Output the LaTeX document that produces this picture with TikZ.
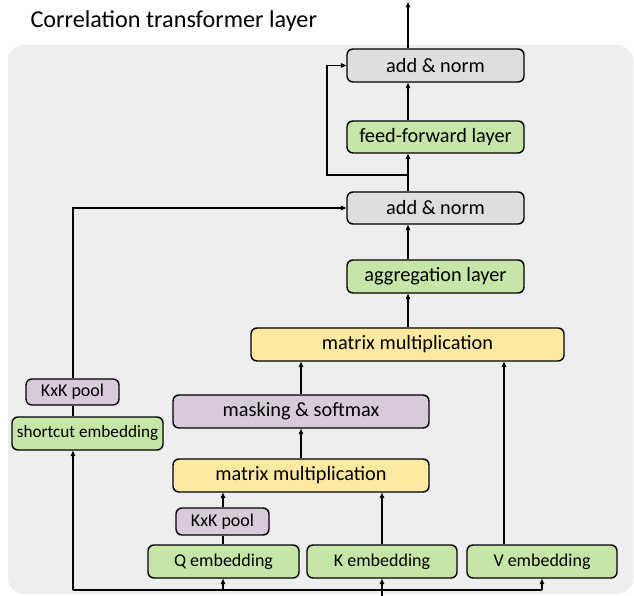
\documentclass[tikz,border=0pt]{standalone}
\usepackage{fontspec}
\setmainfont{Carlito}
\usetikzlibrary{arrows.meta,calc}
\definecolor{bgc}{HTML}{EEEEEE}
\definecolor{grayc}{HTML}{DEDEDE}
\definecolor{greenc}{HTML}{C5E6A6}
\definecolor{yellowc}{HTML}{FFE89F}
\definecolor{purplec}{HTML}{D8CADB}
\tikzset{
  box/.style={draw=black, line width=1.4pt, rounded corners=6pt, inner sep=0pt, align=center},
  bigtext/.style={font=\fontsize{20.3}{23}\selectfont},
  smalltext/.style={font=\fontsize{18}{20}\selectfont},
  graybox/.style={box, bigtext, fill=grayc},
  greenbox/.style={box, bigtext, fill=greenc},
  yellowbox/.style={box, bigtext, fill=yellowc},
  purplebox/.style={box, bigtext, fill=purplec},
  conn/.style={draw=black, line width=1.3pt},
  arr/.style={conn, -{Triangle[length=5.5pt,width=4.5pt]}},
}
\begin{document}
\begin{tikzpicture}[x=1pt,y=-1pt]
\useasboundingbox (0,0) rectangle (634,596);
% background panel
\fill[bgc, rounded corners=16pt] (8,45) rectangle (633,594);
\node[anchor=west, font=\fontsize{24.2}{27}\selectfont] (title) at (27,21) {Correlation transformer layer};

% nodes
\node[graybox, minimum width=177pt, minimum height=33pt] (an2) at (435.5,65.5) {add \& norm};
\node[greenbox, minimum width=177pt, minimum height=32pt] (ff) at (435.5,137) {feed-forward layer};
\node[graybox, minimum width=177pt, minimum height=32pt] (an1) at (435.5,208) {add \& norm};
\node[greenbox, minimum width=177pt, minimum height=33pt] (agg) at (435.5,276.5) {aggregation layer};
\node[yellowbox, minimum width=313pt, minimum height=33pt] (mm2) at (407.5,344.5) {matrix multiplication};
\node[purplebox, minimum width=256pt, minimum height=33pt] (mask) at (301,411.5) {masking \& softmax};
\node[yellowbox, minimum width=256pt, minimum height=33pt] (mm1) at (301,475.5) {matrix multiplication};
\node[box, smalltext, fill=purplec, minimum width=93pt, minimum height=27pt] (poolq) at (222.5,521.5) {KxK pool};
\node[box, smalltext, fill=greenc, minimum width=151pt, minimum height=33pt] (qemb) at (223.5,561.5) {Q embedding};
\node[box, smalltext, fill=greenc, minimum width=150pt, minimum height=33pt] (kemb) at (382,561.5) {K embedding};
\node[box, smalltext, fill=greenc, minimum width=150pt, minimum height=33pt] (vemb) at (542,561.5) {V embedding};
\node[box, smalltext, fill=purplec, minimum width=93pt, minimum height=26pt] (pools) at (72.5,392) {KxK pool};
\node[box, font=\fontsize{17.2}{19}\selectfont, fill=greenc, minimum width=151pt, minimum height=33pt] (semb) at (87.5,433.5) {shortcut embedding};

% helper coordinates
\coordinate (out) at (408,2);
\coordinate (cmain) at (408,0);
\coordinate (skipx) at (327,175);
\coordinate (cmask) at (301,0);
\coordinate (cq) at (223,0);
\coordinate (ck) at (382,0);
\coordinate (cv) at (504,0);
\coordinate (cvin) at (542,0);
\coordinate (cs) at (73,0);
\coordinate (busy) at (0,590);
\coordinate (inp) at (382,596);

% main column
\draw[arr] (an2.north -| cmain) -- (out);
\draw[arr] (ff.north -| cmain) -- (an2.south -| cmain);
\draw[arr] (an1.north -| cmain) -- (ff.south -| cmain);
\draw[arr] (agg.north -| cmain) -- (an1.south -| cmain);
\draw[arr] (mm2.north -| cmain) -- (agg.south -| cmain);
% residual around feed-forward
\draw[arr] (skipx -| cmain) -- (skipx) |- (an2.west);
% attention path
\draw[arr] (mask.north -| cmask) -- (mm2.south -| cmask);
\draw[arr] (mm1.north -| cmask) -- (mask.south -| cmask);
\draw[arr] (poolq.north -| cq) -- (mm1.south -| cq);
\draw[conn] (qemb.north -| cq) -- (poolq.south -| cq);
\draw[arr] (kemb.north -| ck) -- (mm1.south -| ck);
\draw[arr] (vemb.north -| cv) -- (mm2.south -| cv);
% shortcut
\draw[conn] (semb.north -| cs) -- (pools.south -| cs);
\draw[arr] (pools.north -| cs) |- (an1.west);
% input bus
\draw[conn, line width=2pt] (busy -| cs) -- (busy -| ck);
\draw[conn, line width=1.2pt] (busy -| ck) -- (busy -| cvin);
\draw[arr] (busy -| cs) -- (semb.south -| cs);
\draw[arr] (busy -| cq) -- (qemb.south -| cq);
\draw[arr] (inp) -- (kemb.south -| ck);
\draw[arr, line width=1.2pt] (busy -| cvin) -- (vemb.south -| cvin);
\end{tikzpicture}
\end{document}
